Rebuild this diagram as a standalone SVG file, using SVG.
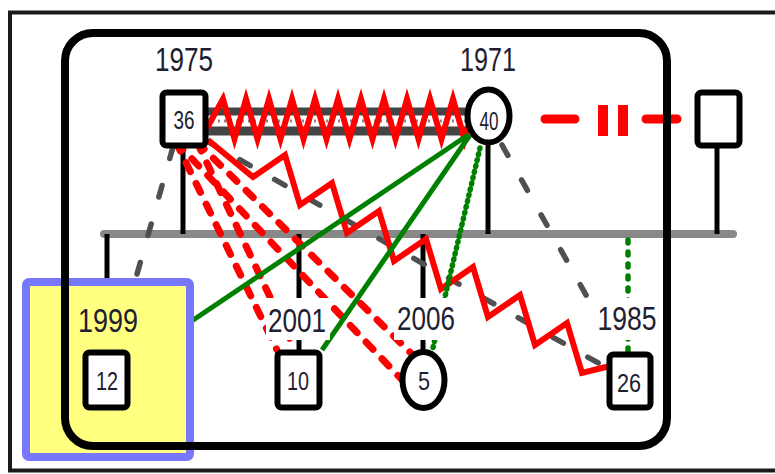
<svg xmlns="http://www.w3.org/2000/svg" width="775" height="474" viewBox="0 0 775 474">
<style>
.lbl{font-family:"Liberation Sans",Arial,sans-serif;font-size:34px;fill:#1e2030;text-anchor:middle}
.ntx{font-family:"Liberation Sans",Arial,sans-serif;font-size:26px;fill:#1e2030;text-anchor:middle}
.node{fill:#fff;stroke:#000;stroke-width:6}
.drop{stroke:#000;stroke-width:5;fill:none}
.rdash{stroke:#ff0000;stroke-width:7;fill:none;stroke-linecap:round;stroke-dasharray:10 13}
.gdash{stroke:#505050;stroke-width:5.5;fill:none;stroke-linecap:round;stroke-dasharray:12 28}
.green{stroke:#008000;stroke-width:5;fill:none}
.gdot{stroke:#008000;stroke-width:5.5;fill:none;stroke-linecap:round}
.zig{stroke:#ff0000;stroke-width:6;fill:none;stroke-linejoin:miter}
.bg{fill:#fff}
</style>
<rect x="0" y="0" width="775" height="474" fill="#fff"/>
<rect id="frame" x="10" y="12.5" width="800" height="458" fill="none" stroke="#1a1a1a" stroke-width="4"/>

<g id="connectors">
  <path d="M104 234 H733" stroke="#888" stroke-width="8" stroke-linecap="round" fill="none"/>
  <path class="drop" d="M183 146 V234"/>
  <path class="drop" d="M488 144 V234"/>
  <path class="drop" d="M717 146 V234"/>
  <path class="drop" d="M107 234 V352"/>
  <path class="drop" d="M299 234 V352"/>
  <path class="drop" d="M423 234 V352"/>
  <path class="gdot" d="M628 240 V352" stroke-dasharray="3 9"/>
  <path d="M206 121.5 H466" stroke="#444" stroke-width="28" fill="none"/>
  <path d="M206 121 H466" stroke="#fff" stroke-width="11" fill="none"/>
  <path d="M206 121 H466" stroke="#888" stroke-width="3" fill="none" stroke-dasharray="2 4"/>
  <path class="zig" d="M207 128 L223 99 L234.5 139 L246 99 L257.5 139 L269 99 L280.5 139 L292 99 L303.5 139 L315 99 L326.5 139 L338 99 L349.5 139 L361 99 L372.5 139 L384 99 L395.5 139 L407 99 L418.5 139 L430 99 L441.5 139 L453 99 L464.5 139 L468 126"/>
  <path d="M545 119 H575 M646 119 H677" stroke="#ff0000" stroke-width="9" stroke-linecap="round" fill="none"/>
  <path d="M603 105 V136 M623 105 V136" stroke="#ff0000" stroke-width="10" fill="none"/>
  <path class="rdash" d="M176 142 L277 350"/>
  <path class="rdash" d="M197 142 L295 350"/>
  <path class="rdash" d="M176 142 L405 383"/>
  <path class="rdash" d="M197 142 L428 370"/>
  <path class="gdash" d="M173 147 L107 380"/>
  <path class="gdash" d="M205 140 L630 381"/>
  <path class="gdash" d="M502 145 L618 352"/>
  <path class="zig" d="M208 140 L253 177 L285 155 L300 205 L332 183 L347 233 L379 211 L394 261 L426 239 L441 289 L473 267 L488 317 L520 295 L535 345 L567 323 L582 373 L610 366"/>
  <path class="green" d="M468 135 L107 378"/>
  <path class="green" d="M470 135 L322 350"/>
  <path class="gdot" d="M480 148 L432 352" stroke-dasharray="1 5"/>
</g>

<g id="label-backgrounds">
  <rect class="bg" x="266" y="298" width="64" height="42"/>
  <rect class="bg" x="394" y="298" width="64" height="42"/>
  <rect class="bg" x="596" y="298" width="64" height="42"/>
</g>

<g id="highlight">
  <rect x="26" y="282" width="164" height="175" rx="3" fill="#ffff80" stroke="#7878ff" stroke-width="8"/>
</g>

<g id="household">
  <rect x="65" y="33" width="602" height="413" rx="28" fill="none" stroke="#000" stroke-width="8"/>
</g>

<g id="n36">
  <rect class="node" x="162.5" y="92.5" width="43" height="53" rx="4"/>
  <text class="ntx" x="184" y="129" textLength="21" lengthAdjust="spacingAndGlyphs">36</text>
  <text class="lbl" x="184" y="71" textLength="58" lengthAdjust="spacingAndGlyphs">1975</text>
</g>
<g id="n40">
  <ellipse class="node" cx="488.5" cy="116" rx="21" ry="26.5"/>
  <text class="ntx" x="489" y="130" textLength="19" lengthAdjust="spacingAndGlyphs">40</text>
  <text class="lbl" x="488" y="71" textLength="56" lengthAdjust="spacingAndGlyphs">1971</text>
</g>
<g id="nright">
  <rect class="node" x="697.5" y="92.5" width="42" height="53" rx="4"/>
</g>
<g id="n12">
  <rect class="node" x="85.5" y="352.5" width="42" height="55" rx="4"/>
  <text class="ntx" x="107" y="390" textLength="22" lengthAdjust="spacingAndGlyphs">12</text>
  <text class="lbl" x="108" y="332" textLength="60" lengthAdjust="spacingAndGlyphs">1999</text>
</g>
<g id="n10">
  <rect class="node" x="277.5" y="352.5" width="42" height="55" rx="4"/>
  <text class="ntx" x="298" y="390" textLength="22" lengthAdjust="spacingAndGlyphs">10</text>
  <text class="lbl" x="297" y="332" textLength="58" lengthAdjust="spacingAndGlyphs">2001</text>
</g>
<g id="n5">
  <ellipse class="node" cx="423.5" cy="380" rx="21" ry="28"/>
  <text class="ntx" x="424" y="390" textLength="12" lengthAdjust="spacingAndGlyphs">5</text>
  <text class="lbl" x="426" y="330" textLength="58" lengthAdjust="spacingAndGlyphs">2006</text>
</g>
<g id="n26">
  <rect class="node" x="609.5" y="354.5" width="41" height="53" rx="4"/>
  <text class="ntx" x="629" y="392" textLength="24" lengthAdjust="spacingAndGlyphs">26</text>
  <text class="lbl" x="627" y="330" textLength="59" lengthAdjust="spacingAndGlyphs">1985</text>
</g>
</svg>
